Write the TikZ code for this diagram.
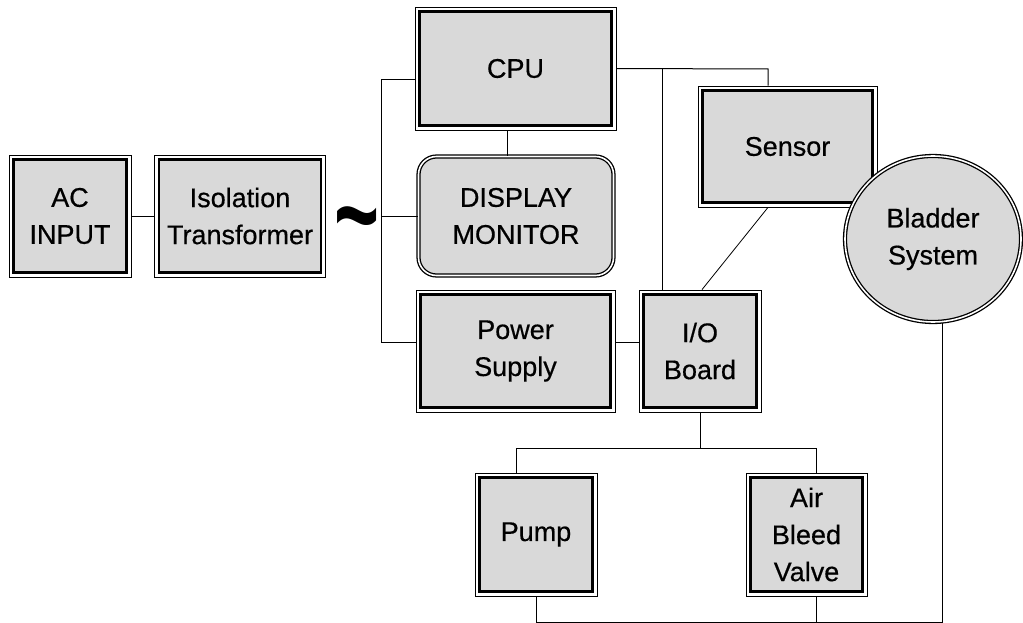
\documentclass[tikz,border=0pt]{standalone}
\usepackage{fontspec}
\setmainfont{Liberation Sans}
\newfontfamily\lblfont{Liberation Sans}[FakeBold=0.5]
\usetikzlibrary{shapes.geometric}
\definecolor{boxgray}{RGB}{217,217,217}
\begin{document}
\begin{tikzpicture}[x=1pt,y=-1pt,line width=1pt,
  lbl/.style={font=\lblfont\fontsize{27}{37}\selectfont, align=center, text=black},
  blk/.style n args={2}{lbl, draw=black, line width=0.8pt, fill=white, inner sep=0pt,
    minimum width=#1pt, minimum height=#2pt,
    path picture={\draw[line width=2.4pt, fill=boxgray]
      ([shift={(4.5pt,-4.5pt)}]path picture bounding box.north west) rectangle
      ([shift={(-4.5pt,4.5pt)}]path picture bounding box.south east);}},
  dbl/.style={lbl, draw=black, line width=1.3pt, double=white, double distance=1.6pt,
    fill=boxgray, inner sep=0pt},
  conn/.style={draw=black, line width=1pt}
  ]
\useasboundingbox (0,0) rectangle (1023,623);

\node[blk={122}{122}] (ac) at (70,216) {AC\\INPUT};
\node[blk={171}{122}] (iso) at (240,216) {Isolation\\Transformer};
\node[font=\fontsize{70}{70}\selectfont\bfseries, inner sep=0pt] (tl) at (357,231) {\scalebox{1.1}[1.7]{\char"7E}};
\node[blk={201}{123}] (cpu) at (515.5,68.5) {CPU};
\node[dbl, rounded corners=18pt, minimum width=195pt, minimum height=119pt] (disp) at (516,216) {DISPLAY\\MONITOR};
\node[blk={199}{122}] (ps) at (515.5,351) {Power\\Supply};
\node[blk={122}{122}] (io) at (700,351) {I/O\\Board};
\node[blk={179}{121}] (sensor) at (787.5,146.5) {Sensor};
\node[dbl, ellipse, minimum width=176pt, minimum height=166pt] (bladder) at (933,239) {Bladder\\System};
\node[blk={122}{123}] (pump) at (536,534.5) {Pump};
\node[blk={121}{123}] (air) at (806.5,534.5) {Air\\Bleed\\Valve};

\draw[conn] (ac) -- (iso);
\coordinate (b1) at (381,80);
\coordinate (b2) at (381,342);
\draw[conn] (cpu.west |- b1) -- (b1) -- (b2) -- (ps.west |- b2);
\draw[conn] (disp.west) -- (disp.west -| b1);
\draw[conn] ([xshift=-8pt]cpu.south) -- ([xshift=-8pt]cpu.south |- disp.north);
\coordinate (s1) at (768,69);
\coordinate (j1) at (662,69);
\draw[conn] (cpu.east) -- (s1) -- (s1 |- sensor.north);
\draw[conn] (j1) -- (j1 |- io.north);
\coordinate (io1) at (702,0);
\draw[conn, line width=0.8pt] (s1 |- sensor.south) -- (io1 |- io.north);
\draw[conn] (ps.east |- b2) -- (io.west |- b2);
\coordinate (h) at (700,448);
\coordinate (hp) at (516,448);
\coordinate (ha) at (816,448);
\draw[conn] (io.south) -- (h);
\draw[conn] (hp |- pump.north) -- (hp) -- (ha) -- (ha |- air.north);
\coordinate (bl) at (942,622);
\draw[conn] (pump.south) -- (pump.south |- bl) -- (bl) -- (bl |- bladder.south);
\draw[conn] (ha |- air.south) -- (ha |- bl);
\end{tikzpicture}
\end{document}
